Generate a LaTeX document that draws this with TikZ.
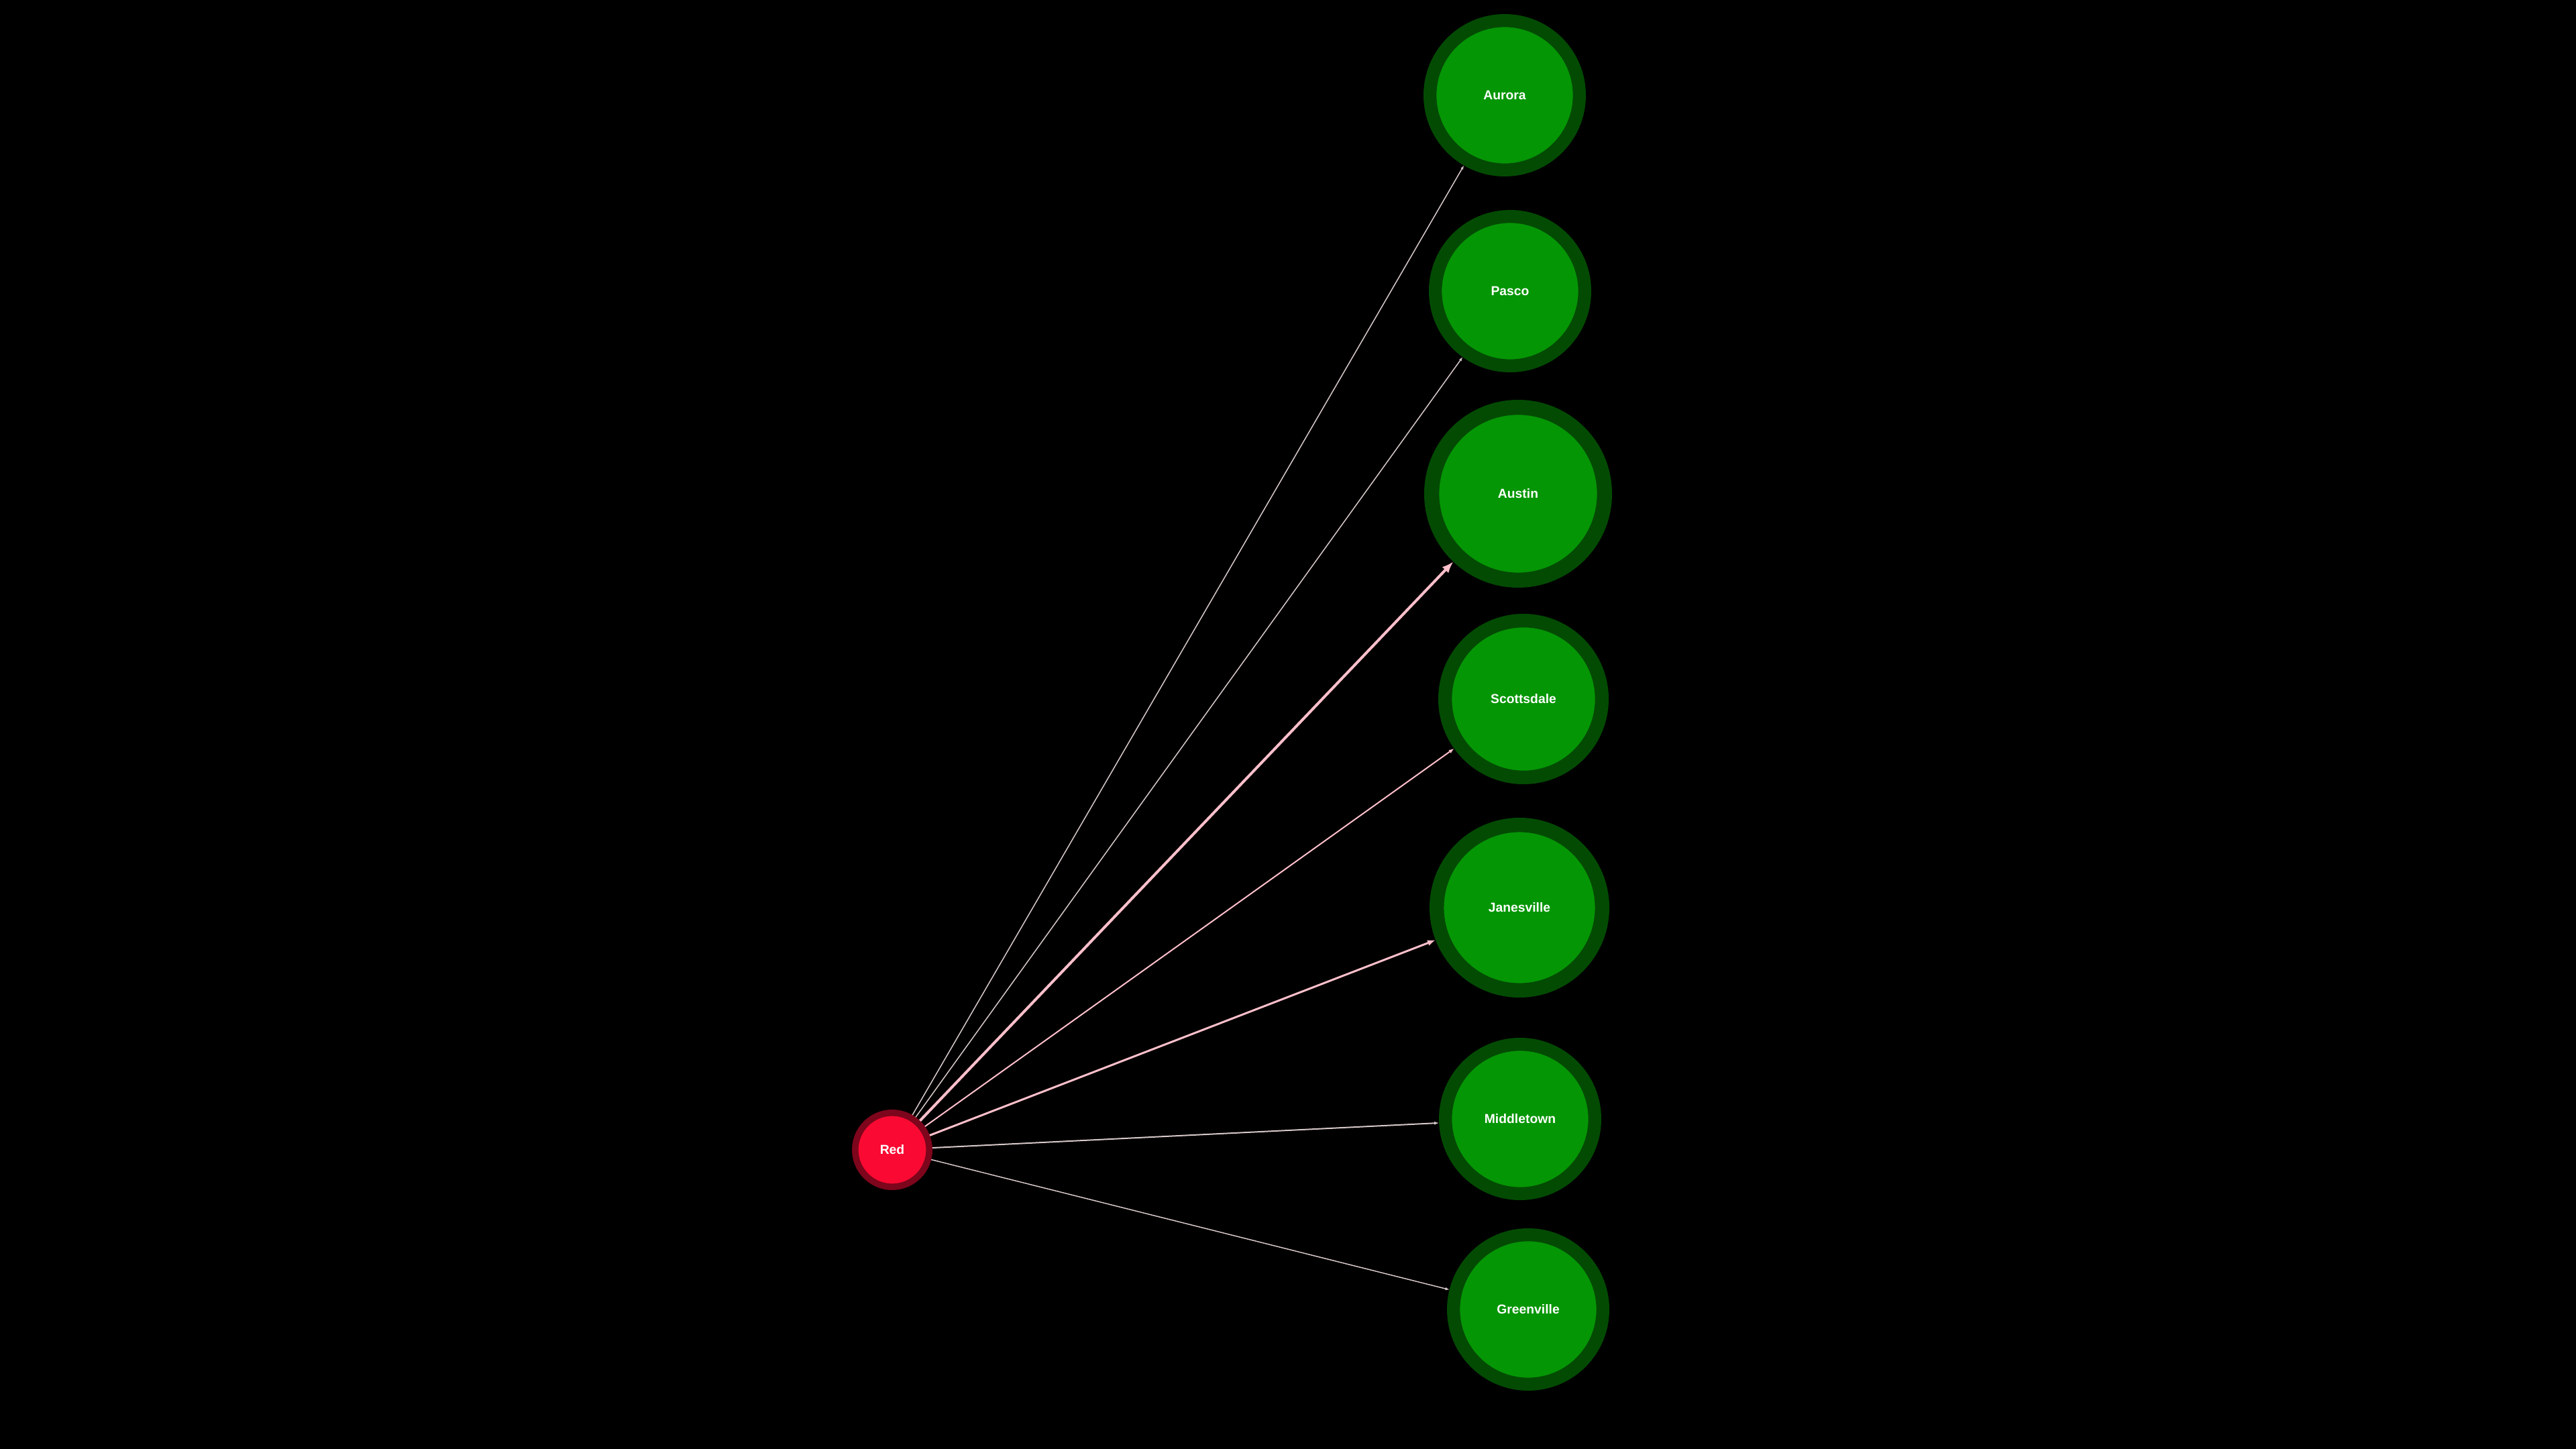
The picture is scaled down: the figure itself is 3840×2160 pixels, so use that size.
\documentclass[tikz,border=0pt]{standalone}
\usepackage{fontspec}
\setmainfont{Liberation Sans}
\usetikzlibrary{arrows.meta}
\definecolor{towngreen}{RGB}{5,150,5}
\definecolor{towndark}{RGB}{3,75,3}
\definecolor{hubred}{RGB}{250,10,50}
\definecolor{hubdark}{RGB}{125,5,28}
\definecolor{linkpink}{RGB}{255,192,203}
\definecolor{linkpale}{RGB}{215,200,200}
\begin{document}
\begin{tikzpicture}[x=0.1mm,y=-0.1mm,
    town/.style={circle,fill=towngreen,draw=towndark,text=white,
        font=\bfseries\fontsize{5.5}{6.6}\selectfont,inner sep=0pt,
        minimum size=#1*0.184mm,line width=#1*0.016mm},
    hub/.style={town=#1,fill=hubred,draw=hubdark},
    link/.style={draw=linkpink,line width=#1*0.1mm},
    faint/.style={draw=linkpale,fill=linkpale,line width=#1*0.1mm}]

    \fill[black] (0,0) rectangle (3840,2160);
    \useasboundingbox (0,0) rectangle (3840,2160);

    \node[hub=60] (red) at (1330,1714) {Red};
    \node[town=121] (aurora) at (2243,142) {Aurora};
    \node[town=121] (pasco) at (2251,434) {Pasco};
    \node[town=140] (austin) at (2263,736) {Austin};
    \node[town=127] (scottsdale) at (2271,1042) {Scottsdale};
    \node[town=134] (janesville) at (2265,1353) {Janesville};
    \node[town=121] (middletown) at (2266,1668) {Middletown};
    \node[town=121] (greenville) at (2278,1952) {Greenville};

    \draw[faint=1.5,-{Latex[length=0.6mm,width=0.45mm]}] (red) to (aurora);
    \draw[faint=1.5,-{Latex[length=0.6mm,width=0.45mm]}] (red) to (pasco);
    \draw[link=4,-{Latex[length=1.7mm,width=1.3mm]}] (red) to (austin);
    \draw[link=2,-{Latex[length=0.8mm,width=0.6mm]}] (red) to (scottsdale);
    \draw[link=3,-{Latex[length=1.2mm,width=0.9mm]}] (red) to (janesville);
    \draw[faint=2,-{Latex[length=0.7mm,width=0.5mm]}] (red) to (middletown);
    \draw[faint=1.5,-{Latex[length=0.6mm,width=0.45mm]}] (red) to (greenville);

\end{tikzpicture}
\end{document}
